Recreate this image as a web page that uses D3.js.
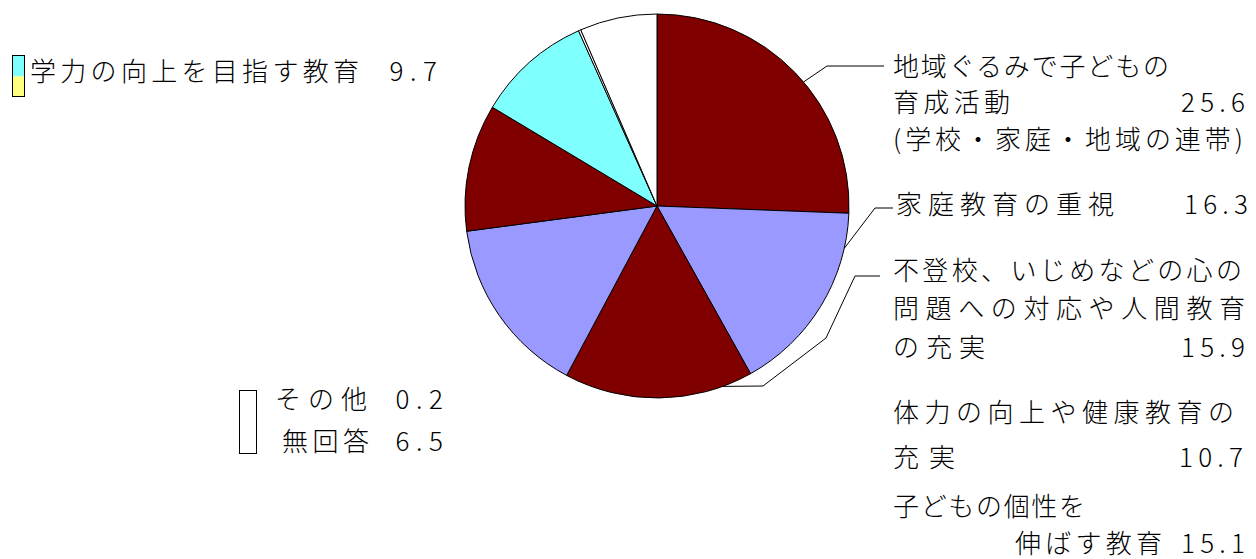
<!DOCTYPE html>
<html>
<head>
<meta charset="utf-8">
<script src="https://cdn.jsdelivr.net/npm/d3@7"></script>
<style>
  body { margin: 0; background: #fff; }
  svg { display: block; }
  text { font-family: "Noto Sans CJK JP", sans-serif; font-size: 26px; font-weight: 300; fill: #000; }
</style>
</head>
<body>
<svg id="chart" width="1256" height="559"></svg>
<script>
// slices, clockwise from 12 o'clock
const categories = [
  "地域ぐるみで子どもの育成活動（学校・家庭・地域の連帯）",
  "家庭教育の重視",
  "不登校、いじめなどの心の問題への対応や人間教育の充実",
  "子どもの個性を伸ばす教育",
  "体力の向上や健康教育の充実",
  "学力の向上を目指す教育",
  "その他",
  "無回答"
]
const values = [25.6, 16.3, 15.9, 15.1, 10.7, 9.7, 0.2, 6.5]
const labelLines = [
  ["地域ぐるみで子どもの", "育成活動", "(学校・家庭・地域の連帯)"],
  ["家庭教育の重視"],
  ["不登校、いじめなどの心の", "問題への対応や人間教育", "の充実"],
  ["子どもの個性を", "伸ばす教育"],
  ["体力の向上や健康教育の", "充実"],
  ["学力の向上を目指す教育"],
  ["その他"],
  ["無回答"]
]
const sliceColors = ["#800000", "#9999ff", "#800000", "#9999ff", "#800000", "#80ffff", "#ffffff", "#ffffff"]

const width = 1256
const height = 559
const center = { x: 657, y: 206 }
const radius = 192

// label placement: each line [x, baseline, width], value [rightEdge, baseline]
const labelLayout = [
  { lines: [[893, 76, 276], [893, 112, 117], [893, 149, 350]], value: [1245, 112] },
  { lines: [[896, 214, 218]], value: [1248, 214] },
  { lines: [[893, 280, 349], [893, 318, 352], [893, 357, 92]], value: [1245, 357] },
  { lines: [[893, 516, 192], [1015, 553, 147]], value: [1245, 553] },
  { lines: [[893, 422, 341], [893, 467, 62]], value: [1243, 467] },
  { lines: [[30, 81, 329]], value: [437, 81] },
  { lines: [[275, 409, 92]], value: [443, 409] },
  { lines: [[282, 451, 87]], value: [443, 451] }
]
// leader lines: where on the slice they start (fraction of the slice), then elbow points
const leaders = [
  { index: 0, at: 0.54, points: [[827, 66], [884, 66]] },
  { index: 1, at: 0.18, points: [[875, 208], [893, 208]] },
  { index: 2, at: 0.16, points: [[763, 386], [826, 338], [855, 276], [880, 276]] }
]
const valueCell = 16.5

const svg = d3.select('#chart')
svg.append('rect').attr('width', width).attr('height', height).attr('fill', '#fff')

const pie = d3.pie().sort(null).value(d => d)
const arcs = pie(values)
const arc = d3.arc().innerRadius(0).outerRadius(radius)

const chart = svg.append('g')
  .attr('transform', `translate(${center.x}, ${center.y})`)

chart.selectAll('path')
    .data(arcs)
  .enter().append('path')
    .attr('d', arc)
    .attr('fill', (d, i) => sliceColors[i])
    .attr('stroke', '#000')
    .attr('stroke-width', 1)
    .attr('stroke-linejoin', 'round')

// leaders
const line = d3.line()
leaders.forEach(l => {
  const a = arcs[l.index]
  const ang = a.startAngle + (a.endAngle - a.startAngle) * l.at
  const start = [center.x + radius * Math.sin(ang), center.y - radius * Math.cos(ang)]
  svg.append('path')
    .attr('d', line([start].concat(l.points)))
    .attr('fill', 'none')
    .attr('stroke', '#000')
    .attr('stroke-width', 1)
})

// labels
const fmt = d3.format('.1f')
labelLines.forEach((lines, i) => {
  const lay = labelLayout[i]
  lines.forEach((t, j) => {
    const [x, y, w] = lay.lines[j]
    svg.append('text')
      .attr('x', x).attr('y', y)
      .attr('textLength', w)
      .attr('lengthAdjust', 'spacing')
      .text(t)
  })
  const v = fmt(values[i])
  const vw = v.length * valueCell
  svg.append('text')
    .attr('x', lay.value[0] - vw + 2).attr('y', lay.value[1])
    .attr('textLength', vw - 2)
    .attr('lengthAdjust', 'spacing')
    .text(v)
})

// legend swatches
const swatches = svg.append('g')
swatches.append('rect').attr('x', 12.5).attr('y', 55.5).attr('width', 12).attr('height', 21)
  .attr('fill', sliceColors[5])
swatches.append('rect').attr('x', 12.5).attr('y', 76.5).attr('width', 12).attr('height', 20)
  .attr('fill', '#ffff80')
swatches.append('rect').attr('x', 12.5).attr('y', 55.5).attr('width', 12).attr('height', 41)
  .attr('fill', 'none').attr('stroke', '#000')
swatches.append('rect').attr('x', 239.5).attr('y', 390.5).attr('width', 17).attr('height', 63)
  .attr('fill', sliceColors[6]).attr('stroke', '#000')
</script>
</body>
</html>
